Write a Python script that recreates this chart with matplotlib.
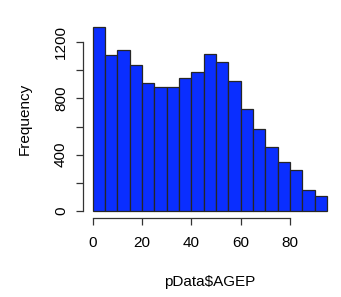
import numpy as np
import matplotlib
matplotlib.use("Agg")
import matplotlib.pyplot as plt

plt.rcParams['font.family'] = ['Liberation Sans', 'DejaVu Sans']

# histogram of ages, bin width 5
bin_edges = [0, 5, 10, 15, 20, 25, 30, 35, 40, 45, 50, 55, 60, 65, 70, 75, 80, 85, 90, 95]
counts = [1312, 1108, 1146, 1039, 908, 882, 882, 946, 989, 1117,
          1062, 923, 727, 585, 456, 345, 288, 148, 103]
xticks = [0, 20, 40, 60, 80]
yticks = [0, 400, 800, 1200]
yminor = [200, 600, 1000]

fig = plt.figure(figsize=(3.41, 2.97), dpi=100)
ax = fig.add_axes([0.244, 0.266, 0.742, 0.669])

ax.bar(bin_edges[:-1], counts, width=np.diff(bin_edges), align='edge',
       color='#0a2eff', edgecolor='#262626', linewidth=0.9)

ax.set_xlim(-3.8, 98.8)
ax.set_ylim(-52.5, 1364.5)

for s in ['top', 'right']:
    ax.spines[s].set_visible(False)
ax.spines['left'].set_bounds(0, 1200)
ax.spines['bottom'].set_bounds(0, 80)
for s in ['left', 'bottom']:
    ax.spines[s].set_color('#333333')
    ax.spines[s].set_linewidth(0.9)

ax.set_xticks(xticks)
ax.set_yticks(sorted(yticks + yminor))
ax.set_yticklabels(['0', '', '400', '', '800', '', '1200'], rotation=90, va='center')
ax.tick_params(axis='both', length=5, width=0.9, color='#333333', labelsize=11)
ax.tick_params(axis='x', pad=8)
ax.tick_params(axis='y', pad=6)

ax.set_xlabel('pData$AGEP', fontsize=11, labelpad=18)
ax.set_ylabel('Frequency', fontsize=11, labelpad=16)

fig.savefig('out.png', dpi=100)
